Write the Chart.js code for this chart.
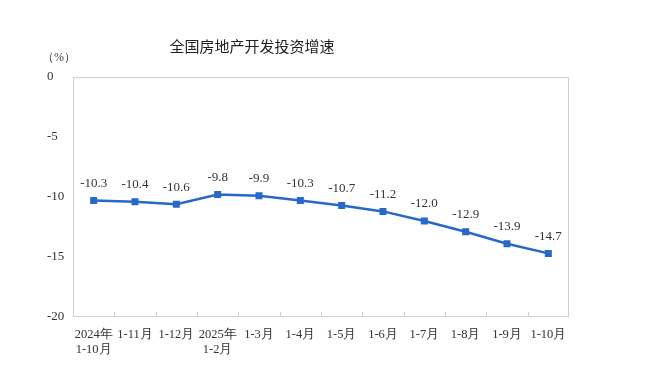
<!DOCTYPE html>
<html>
<head>
<meta charset="utf-8">
<script src="https://cdn.jsdelivr.net/npm/chart.js@4.4.1/dist/chart.umd.min.js"></script>
<style>
  html, body { margin: 0; padding: 0; background: #fff; }
  #wrap { position: relative; width: 647px; height: 389px; }
  #title { position: absolute; left: 0; width: 504px; top: 35px; text-align: center;
           font-family: "Noto Sans CJK SC", sans-serif; font-size: 15px; color: #222; }
  #unit { position: absolute; left: 42px; top: 49px; font-family: "Liberation Serif", serif;
          font-size: 12px; color: #444; }
</style>
</head>
<body>
<div id="wrap">
  <div id="title">全国房地产开发投资增速</div>
  <div id="unit">（%）</div>
  <canvas id="chart" width="647" height="389"></canvas>
</div>
<script>
// 月份标签
const categorias = [
  ['2024年', '1-10月'], '1-11月', '1-12月', ['2025年', '1-2月'], '1-3月', '1-4月',
  '1-5月', '1-6月', '1-7月', '1-8月', '1-9月', '1-10月'
];
// 累计增速 (%)
const valores = [-10.3, -10.4, -10.6, -9.8, -9.9, -10.3, -10.7, -11.2, -12.0, -12.9, -13.9, -14.7];
const ticksY = [0, -5, -10, -15, -20];

const AZUL = '#2768c8';
const GRIS = '#cfcfcf';
const SERIF = '"Liberation Serif", "Times New Roman", serif';

// marco del área del gráfico + marcas entre categorías
const marco = {
  id: 'marco',
  afterDraw(chart) {
    const { ctx, chartArea: a, scales: { x } } = chart;
    ctx.save();
    ctx.strokeStyle = GRIS;
    ctx.lineWidth = 1;
    ctx.strokeRect(a.left + 0.5, a.top + 0.5, a.right - a.left - 1, a.bottom - a.top - 1);
    ctx.beginPath();
    for (let i = 0; i < categorias.length - 1; i++) {
      const px = Math.round((x.getPixelForTick(i) + x.getPixelForTick(i + 1)) / 2) + 0.5;
      ctx.moveTo(px, a.bottom);
      ctx.lineTo(px, a.bottom - 5);
    }
    ctx.stroke();
    ctx.restore();
  }
};

// etiquetas de valores sobre los puntos
const etiquetas = {
  id: 'etiquetas',
  afterDatasetsDraw(chart) {
    const { ctx } = chart;
    const meta = chart.getDatasetMeta(0);
    ctx.save();
    ctx.font = '13px ' + SERIF;
    ctx.fillStyle = '#333';
    ctx.textAlign = 'center';
    ctx.textBaseline = 'middle';
    meta.data.forEach((p, i) => {
      ctx.fillText(valores[i].toFixed(1), p.x, p.y - 17);
    });
    ctx.restore();
  }
};

new Chart(document.getElementById('chart'), {
  type: 'line',
  data: {
    labels: categorias,
    datasets: [{
      data: valores,
      borderColor: AZUL,
      backgroundColor: AZUL,
      borderWidth: 2.5,
      pointStyle: 'rect',
      pointRadius: 3.2,
      pointHoverRadius: 3.2,
      tension: 0
    }]
  },
  options: {
    responsive: false,
    animation: false,
    layout: { padding: { left: 47, right: 78, top: 77, bottom: 28 } },
    plugins: { legend: { display: false }, tooltip: { enabled: false } },
    scales: {
      x: {
        offset: true,
        grid: { display: false, tickLength: 0 },
        border: { display: false },
        ticks: { color: '#333', font: { family: SERIF, size: 12.5 }, maxRotation: 0, autoSkip: false, padding: 10 },
        afterFit: s => { s.height = 44; }
      },
      y: {
        min: -20,
        max: 0,
        afterBuildTicks: s => { s.ticks = ticksY.map(v => ({ value: v })); },
        afterFit: s => { s.width = 26; },
        grid: { display: false },
        border: { display: false },
        ticks: { color: '#333', font: { family: SERIF, size: 13 }, crossAlign: 'far', padding: 4 }
      }
    }
  },
  plugins: [marco, etiquetas]
});
</script>
</body>
</html>
